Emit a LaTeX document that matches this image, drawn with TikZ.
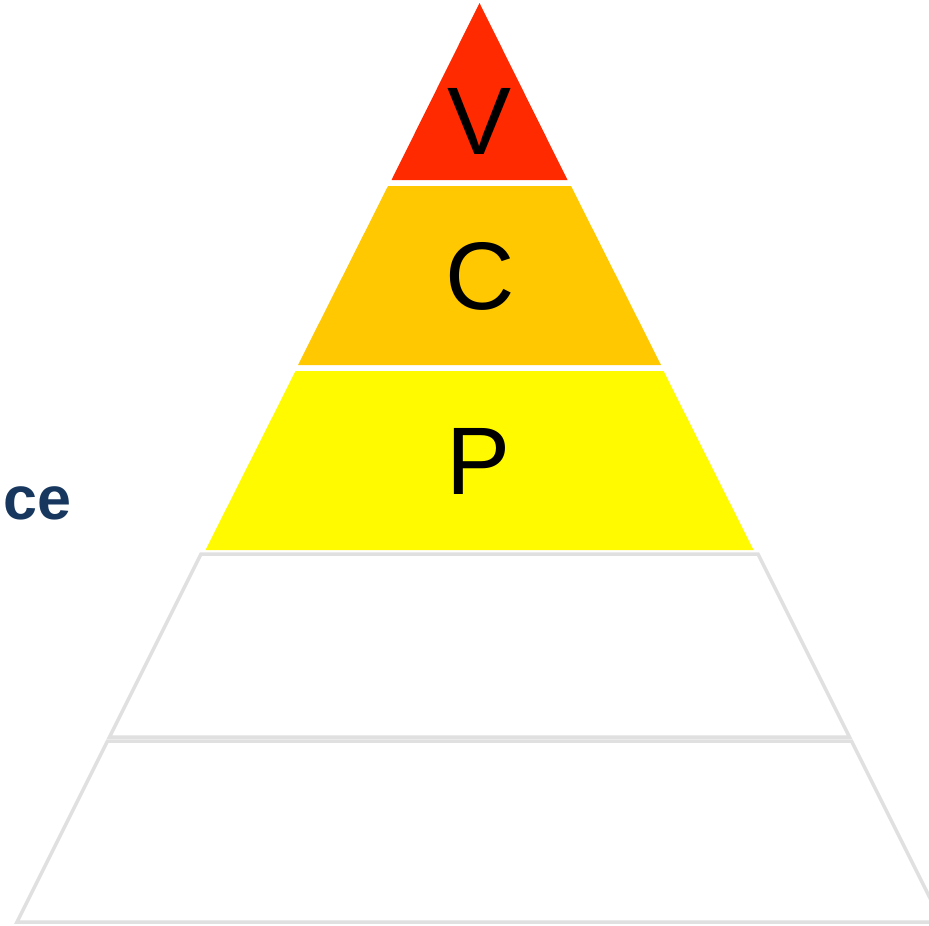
\documentclass[tikz,border=0pt]{standalone}
\usepackage{fontspec}
\setmainfont{Liberation Sans}
\definecolor{lvred}{HTML}{FF2A00}
\definecolor{lvorange}{HTML}{FFC800}
\definecolor{lvyellow}{HTML}{FFFA00}
\definecolor{lvgray}{HTML}{E0E0E0}
\definecolor{lvblue}{HTML}{17375E}
\begin{document}
\begin{tikzpicture}[x=1pt,y=-1pt,
  colorlayer/.style={draw=none},
  whitelayer/.style={fill=white,draw=lvgray,line width=3.5pt,line join=miter},
  letter/.style={font=\fontsize{96}{100}\selectfont,text=black,inner sep=0pt}]
\useasboundingbox (0,0) rectangle (929,926);
\begin{scope}
\clip (0,0) rectangle (929,926);
% top layer
\fill[lvred] (479.5,3) -- (567.5,180) -- (391.5,180) -- cycle;
% second layer
\fill[lvorange] (388,186) -- (571,186) -- (661,365) -- (298,365) -- cycle;
% third layer
\fill[lvyellow] (295.5,371) -- (663.5,371) -- (753.5,550) -- (205.5,550) -- cycle;
% fourth layer
\draw[whitelayer] (201,554) -- (758,554) -- (849.5,737) -- (109.5,737) -- cycle;
% fifth layer
\draw[whitelayer] (107.5,741) -- (851.5,741) -- (942,922) -- (17,922) -- cycle;
\end{scope}
\node[letter] (v) at (480,121) {V};
\node[letter] (c) at (480,276) {C};
\node[letter] (p) at (479,461) {P};
\node[anchor=base west,inner sep=0pt,text=lvblue,font=\fontsize{61}{70}\selectfont\bfseries] (ce) at (3,519) {ce};
\end{tikzpicture}
\end{document}
